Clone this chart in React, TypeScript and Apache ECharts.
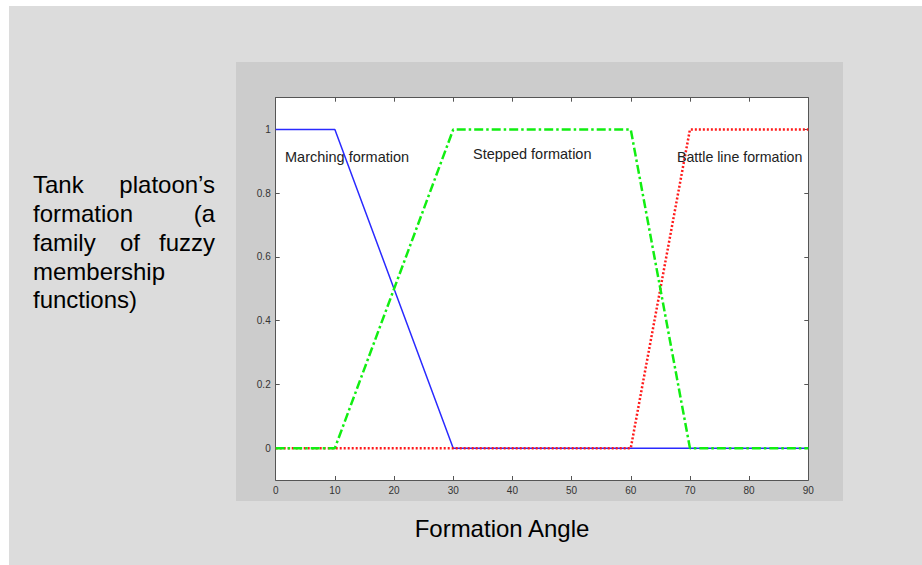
import React, { useEffect, useRef } from "react";
import * as echarts from "echarts";

const marchingData: [number, number][] = [[0, 1], [10, 1], [30, 0], [90, 0]];
const steppedData: [number, number][] = [[0, 0], [10, 0], [30, 1], [60, 1], [70, 0], [90, 0]];
const battleData: [number, number][] = [[0, 0], [60, 0], [70, 1], [90, 1]];
const yTicks = [0, 0.2, 0.4, 0.6, 0.8, 1];
const seriesNames = ["Marching formation", "Stepped formation", "Battle line formation"];
const xTitle = "Formation Angle";

const FONT = "'Liberation Sans', Arial, sans-serif";

export default function App() {
  const ref = useRef<HTMLDivElement>(null);
  useEffect(() => {
    document.body.style.margin = "0";
    const chart = echarts.init(ref.current!, null, { renderer: "svg" });
    const axisLine = { show: true, onZero: false, lineStyle: { color: "#555", width: 1 } };
    const tick = { show: true, inside: true, length: 4, lineStyle: { color: "#555" } };
    const para = (text: string, x: number, y: number, align: string = "left") => ({
      type: "text",
      x,
      y,
      silent: true,
      style: { text, fill: "#000", font: `24px ${FONT}`, textAlign: align, textVerticalAlign: "alphabetic" },
    });
    chart.setOption({
      animation: false,
      backgroundColor: "#fff",
      graphic: [
        { type: "rect", z: -10, shape: { x: 9, y: 6, width: 913, height: 559 }, style: { fill: "#dcdcdc" } },
        { type: "rect", z: -9, shape: { x: 236, y: 62, width: 607, height: 439 }, style: { fill: "#cccccc" } },
        { type: "rect", z: -8, shape: { x: 275.7, y: 97.7, width: 532.6, height: 382.3 }, style: { fill: "#fff" } },
        para("Tank", 33, 172),
        para("platoon\u2019s", 215, 172, "right"),
        para("formation", 33, 201),
        para("(a", 215, 201, "right"),
        para("family", 33, 230),
        para("of", 130, 230, "center"),
        para("fuzzy", 215, 230, "right"),
        para("membership", 33, 259),
        para("functions)", 33, 287),
        {
          type: "text", x: 502, y: 528, silent: true,
          style: { text: xTitle, fill: "#000", font: `24px ${FONT}`, textAlign: "center", textVerticalAlign: "middle" },
        },
        {
          type: "text", x: 285, y: 157, z: 10, silent: true,
          style: { text: seriesNames[0], fill: "#222", font: `14.5px ${FONT}`, textAlign: "left", textVerticalAlign: "middle" },
        },
        {
          type: "text", x: 473, y: 153.5, z: 10, silent: true,
          style: { text: seriesNames[1], fill: "#222", font: `14.5px ${FONT}`, textAlign: "left", textVerticalAlign: "middle" },
        },
        {
          type: "text", x: 677, y: 157, z: 10, silent: true,
          style: { text: seriesNames[2], fill: "#222", font: `14.2px ${FONT}`, textAlign: "left", textVerticalAlign: "middle" },
        },
      ],
      grid: { left: 275.7, right: 113.7, top: 97.7, height: 382.3, containLabel: false },
      xAxis: [
        {
          type: "value", min: 0, max: 90, interval: 10, position: "bottom",
          axisLine, axisTick: tick, splitLine: { show: false },
          axisLabel: { color: "#333", fontSize: 10, fontFamily: FONT, margin: 5, showMinLabel: true, showMaxLabel: true },
        },
        {
          type: "value", min: 0, max: 90, interval: 10, position: "top",
          axisLine, axisTick: tick, splitLine: { show: false }, axisLabel: { show: false },
        },
      ],
      yAxis: [
        {
          type: "value", min: -0.1, max: 1.1, position: "left",
          axisLine, splitLine: { show: false },
          axisTick: { ...tick, customValues: yTicks },
          axisLabel: {
            color: "#333", fontSize: 10, fontFamily: FONT, margin: 5,
            customValues: yTicks, formatter: (v: number) => String(Math.round(v * 10) / 10),
          },
        },
        {
          type: "value", min: -0.1, max: 1.1, position: "right",
          axisLine, splitLine: { show: false },
          axisTick: { ...tick, customValues: yTicks },
          axisLabel: { show: false },
        },
      ],
      series: [
        {
          name: seriesNames[0], type: "line", data: marchingData, symbol: "none",
          lineStyle: { color: "#2a2aff", width: 1.5, type: "solid" }, z: 3,
        },
        {
          name: seriesNames[2], type: "line", data: battleData, symbol: "none",
          lineStyle: { color: "#ff1a1a", width: 2.5, type: [2, 2] }, z: 4,
        },
        {
          name: seriesNames[1], type: "line", data: steppedData, symbol: "none",
          lineStyle: { color: "#11ee11", width: 2.5, type: [9, 3, 2.5, 3] }, z: 5,
        },
      ],
    });
    return () => chart.dispose();
  }, []);
  return <div ref={ref} style={{ width: 922, height: 565 }} />;
}
